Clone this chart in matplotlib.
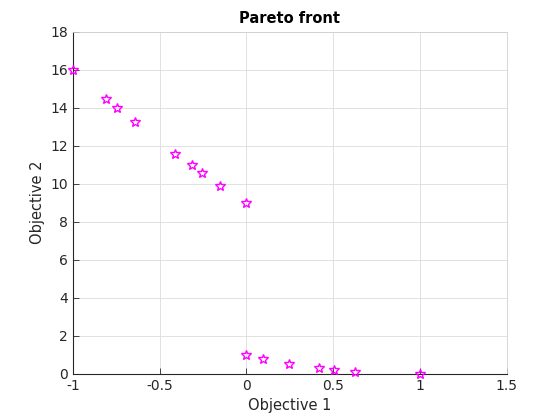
import matplotlib
matplotlib.use("Agg")
import matplotlib.pyplot as plt

obj1 = [-1.0, -0.806, -0.746, -0.640, -0.409, -0.316, -0.254, -0.150, 0.0,
        0.0, 0.098, 0.248, 0.420, 0.504, 0.626, 1.0]
obj2 = [16.0, 14.47, 14.0, 13.26, 11.58, 11.0, 10.54, 9.89, 9.0,
        0.97, 0.80, 0.54, 0.33, 0.21, 0.12, 0.0]

xticks = [-1, -0.5, 0, 0.5, 1, 1.5]
xticklabels = ["-1", "-0.5", "0", "0.5", "1", "1.5"]
yticks = [0, 2, 4, 6, 8, 10, 12, 14, 16, 18]

fig = plt.figure(figsize=(5.6, 4.2), dpi=100)
ax = fig.add_axes([0.13, 0.11, 0.775, 0.815])
ax.plot(obj1, obj2, linestyle="none", marker="*", markersize=7.5,
        markerfacecolor="none", markeredgecolor="#ff00ff", markeredgewidth=1.0,
        clip_on=False, zorder=3)
ax.set_xlim(-1, 1.5)
ax.set_ylim(0, 18)
ax.set_xticks(xticks)
ax.set_xticklabels(xticklabels)
ax.set_yticks(yticks)
ax.grid(True, color="#dcdcdc", linewidth=0.6)
ax.set_axisbelow(True)
for s in ["top", "right"]:
    ax.spines[s].set_color("#d0d0d0")
    ax.spines[s].set_linewidth(0.6)
for s in ["left", "bottom"]:
    ax.spines[s].set_color("#262626")
    ax.spines[s].set_linewidth(0.8)
ax.tick_params(direction="in", length=4, width=0.6, colors="#262626",
               labelsize=10, top=False, right=False)
ax.set_xlabel("Objective 1", fontsize=10.5, color="#262626")
ax.set_ylabel("Objective 2", fontsize=10.5, color="#262626")
ax.set_title("Pareto front", fontsize=10.5, fontweight="bold", pad=6)
fig.savefig("out.png", dpi=100)
